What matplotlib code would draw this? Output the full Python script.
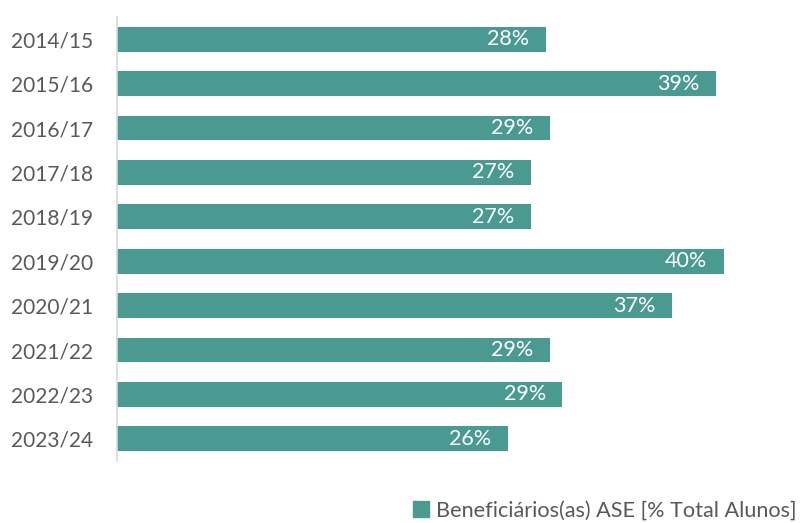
import matplotlib
matplotlib.use("Agg")
import matplotlib.pyplot as plt
from matplotlib.patches import Rectangle

categories = ["2014/15", "2015/16", "2016/17", "2017/18", "2018/19",
              "2019/20", "2020/21", "2021/22", "2022/23", "2023/24"]
values = [28.2, 39.4, 28.5, 27.2, 27.2, 39.9, 36.5, 28.5, 29.3, 25.7]
labels = ["28%", "39%", "29%", "27%", "27%", "40%", "37%", "29%", "29%", "26%"]
series_name = "Beneficiários(as) ASE [% Total Alunos]"

plt.rcParams['font.family'] = ['Lato', 'DejaVu Sans']
color = "#4A9A92"
text_gray = "#595959"

fig = plt.figure(figsize=(8, 5.23), dpi=100)
W, H = 800, 523
left, right = 117, 786
top, bottom = 17, 461
ax = fig.add_axes([left / W, 1 - bottom / H, (right - left) / W, (bottom - top) / H])

y = list(range(len(categories)))
ax.barh(y, values, height=0.56, color=color)
ax.set_ylim(len(categories) - 0.5, -0.5)
ax.set_xlim(0, 44)
ax.set_yticks(y)
ax.set_yticklabels(categories, fontsize=15, color=text_gray)
ax.tick_params(axis='y', length=0, pad=17)
ax.set_xticks([])
for s in ["top", "right", "bottom"]:
    ax.spines[s].set_visible(False)
ax.spines["left"].set_color("#D9D9D9")
ax.spines["left"].set_linewidth(1.2)

for yi, v, lab in zip(y, values, labels):
    ax.text(v - 1.1, yi, lab, ha="right", va="center", color="white", fontsize=15.5)

# legend
handle = Rectangle((0, 0), 1, 1, color=color)
fig.legend([handle], [series_name], loc="lower right", bbox_to_anchor=(1.02, -0.032),
           frameon=False, fontsize=15.6, labelcolor=text_gray, handlelength=0.75,
           handleheight=0.75, handletextpad=0.3)

fig.savefig("out.png", dpi=100)
